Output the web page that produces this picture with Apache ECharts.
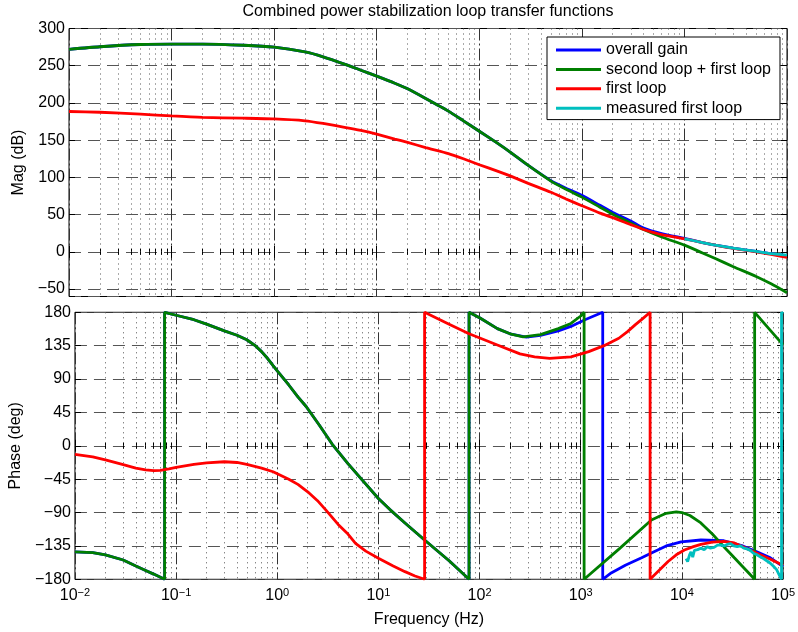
<!DOCTYPE html>
<html>
<head>
<meta charset="utf-8">
<script src="https://cdn.jsdelivr.net/npm/echarts@6/dist/echarts.min.js"></script>
<style>
  html, body { margin: 0; padding: 0; background: #fff; }
  #chart { width: 798px; height: 632px; }
</style>
</head>
<body>
<div id="chart"></div>
<script type="text/javascript">
  // Bode plot: magnitude (top) and phase (bottom)

  // Magnitude (Hz -> dB)
  var freqMag = [0.01, 0.02, 0.05, 0.1, 0.2, 0.5, 1, 2, 3, 5, 7, 10, 15, 20, 30, 50, 70, 100, 150, 200, 300, 500, 700, 1000, 1500, 2000, 3000, 4000, 6000, 10000, 15000, 20000, 30000, 50000, 70000, 100000];
  var magOverall = [272, 275.5, 278.5, 279, 279, 277.5, 275, 268.5, 262, 251.5, 244, 236, 226.5, 219, 206, 189, 176, 162, 146, 134, 116, 95.5, 85.5, 76, 62.5, 53, 41.5, 32, 24.5, 18, 12.5, 9, 5, 0.5, -2.5, -5];
  var magSecond = [272, 275.5, 278.5, 279, 279, 277.5, 275, 268.5, 262, 251.5, 244, 236, 226.5, 219, 206, 189, 176, 162, 146, 134, 116, 95, 84, 73.5, 60, 50.5, 38.5, 30, 20, 9, -1.5, -9, -20, -33, -43, -55];
  var magFirst = [188.5, 187.5, 185, 182.5, 180.5, 179.5, 178.5, 176, 172.5, 167, 163, 158, 151.5, 147, 140, 132, 125, 117, 108.5, 102, 92, 80, 71, 62, 52, 46, 36.5, 30, 23, 17.5, 12.5, 9, 4.5, 0, -3.5, -7.5];
  var freqMagMeas = [10000, 15000, 20000, 30000, 50000, 70000, 100000];
  var magMeasured = [17.5, 12.5, 9, 5, 0.5, -2.5, -4.5];

  // Phase (Hz -> deg), wrapped at +/-180 so some frequencies repeat
  var freqPhOverall = [0.01, 0.015, 0.02, 0.03, 0.04, 0.05, 0.06, 0.077, 0.077, 0.1, 0.15, 0.2, 0.3, 0.4, 0.5, 0.6, 0.7, 0.8, 0.91, 1, 1.3, 1.6, 1.93, 2.6, 3.5, 5, 6.9, 10, 13, 18.3, 28.6, 50, 78.7, 78.7, 102, 150, 200, 290, 400, 600, 800, 1100, 1650, 1650, 2000, 2760, 4000, 5000, 7000, 9840, 15400, 26000, 40000, 55000, 75000, 100000];
  var phOverall = [-143, -144, -147, -154, -162, -168, -173, -180, 180, 176, 170, 164, 155, 149, 143, 135.5, 127, 118, 108, 101, 82, 66, 53, 28, 2, -24, -46, -71, -86, -104, -127, -155, -180, 180, 172, 158, 151, 146.5, 149, 155, 161, 170, 180, -180, -171.5, -161, -151, -144.5, -135, -129.5, -127, -128, -135, -143, -151, -163];
  var freqPhSecond = [0.01, 0.015, 0.02, 0.03, 0.04, 0.05, 0.06, 0.077, 0.077, 0.1, 0.15, 0.2, 0.3, 0.4, 0.5, 0.6, 0.7, 0.8, 0.91, 1, 1.3, 1.6, 1.93, 2.6, 3.5, 5, 6.9, 10, 13, 18.3, 28.6, 50, 78.7, 78.7, 102, 150, 200, 270, 400, 600, 800, 1000, 1080, 1080, 2400, 5000, 6000, 7000, 8800, 10000, 12000, 15400, 20000, 26000, 33000, 40000, 52400, 52400, 100000];
  var phSecond = [-143, -144, -147, -154, -162, -168, -173, -180, 180, 176, 170, 164, 155, 149, 143, 135.5, 127, 118, 108, 101, 82, 66, 53, 28, 2, -24, -46, -71, -86, -104, -127, -155, -180, 180, 172, 158, 151, 147, 150, 158, 165, 175, 180, -180, -139, -100, -95, -91, -89, -90, -94, -104, -119, -136, -151, -163, -180, 180, 136];
  var freqPhFirst = [0.01, 0.015, 0.02, 0.03, 0.04, 0.05, 0.06, 0.07, 0.085, 0.1, 0.15, 0.2, 0.3, 0.4, 0.5, 0.7, 0.91, 1.3, 1.6, 2, 2.5, 3, 4, 5, 5.94, 7.5, 10, 14, 18.3, 23, 28.6, 28.6, 50, 78.7, 102, 150, 251, 350, 493, 800, 1200, 1700, 2380, 2900, 3450, 4100, 4850, 4850, 6000, 7300, 8800, 10600, 13000, 15400, 20000, 26000, 33000, 40000, 51200, 62000, 75000, 100000];
  var phFirst = [-11.5, -15, -19, -25.5, -30, -32.5, -33.5, -33, -31, -29, -25, -23, -21.5, -22.5, -25, -30, -35, -45, -52, -62, -74, -86, -106, -119, -131.5, -142, -151.7, -162, -169.7, -175.5, -180, 180, 164, 151, 145, 136, 124, 120, 118, 120, 127, 135, 145, 154, 163, 171.5, 180, -180, -167.5, -156, -147, -140.5, -136, -133, -130, -129, -131, -136, -143, -148, -153, -161];
  var freqPhMeas = [11000, 11400, 11900, 12300, 12800, 13300, 14300, 15400, 16600, 17900, 19000, 20800, 22500, 24200, 26000, 28000, 30300, 32500, 35200, 38000, 40900, 44000, 47500, 51000, 55100, 60000, 64000, 69000, 74300, 80000, 86400, 93100, 96600, 96600, 100000];
  var phMeasured = [-152, -156, -147, -143, -150, -141, -140, -138, -140, -136, -138, -137, -134, -134, -135, -133, -132, -135, -136, -135, -138, -139, -141, -145, -147, -150, -152, -155, -158, -162, -167, -176, -180, 180, 178];

  var names = ['overall gain', 'second loop + first loop', 'first loop', 'measured first loop'];
  var colors = ['#0000ff', '#007f00', '#ff0000', '#00bfbf'];

  var FONT = "'Liberation Sans', Arial, Helvetica, sans-serif";
  var MINUS = '\u2212';

  function pairs(fs, vs) {
    return fs.map(function (f, i) { return [f, vs[i]]; });
  }

  function yLabel(v) {
    if (v === -60) return '';
    return v < 0 ? MINUS + (-v) : String(v);
  }

  function xLabel(v) {
    var e = Math.round(Math.log10(v));
    return '{b|10}{s|' + (e < 0 ? MINUS + (-e) : e) + '}';
  }

  function logAxis(grid, pos, labels) {
    return {
      type: 'log',
      logBase: 10,
      gridIndex: grid,
      position: pos,
      min: 0.01,
      max: 100000,
      splitNumber: 7,
      axisLine: { show: false },
      axisTick: { show: true, inside: true, length: 6, lineStyle: { color: '#000' } },
      minorTick: { show: true, splitNumber: 9, length: 3, lineStyle: { color: '#000' } },
      axisLabel: labels ? {
        show: true,
        margin: 8,
        formatter: xLabel,
        color: '#000',
        fontFamily: FONT,
        rich: {
          b: { fontSize: 16, fontFamily: FONT, color: '#000', lineHeight: 16, verticalAlign: 'bottom' },
          s: { fontSize: 11, fontFamily: FONT, color: '#000', lineHeight: 11, verticalAlign: 'top', padding: [0, 0, 12, 0] }
        }
      } : { show: false },
      splitLine: {
        show: pos === 'bottom',
        lineStyle: { color: '#333', width: 1, type: [12, 3, 2, 3] }
      },
      minorSplitLine: {
        show: pos === 'bottom',
        lineStyle: { color: '#555', width: 1, type: [1, 4] }
      }
    };
  }

  function valueAxis(grid, pos, min, max, extra) {
    var ax = {
      type: 'value',
      gridIndex: grid,
      position: pos,
      min: min,
      max: max,
      axisLine: { show: false },
      axisTick: { show: true, inside: true, length: 6, lineStyle: { color: '#000' } },
      axisLabel: pos === 'left' ? {
        show: true, margin: 4, formatter: yLabel,
        color: '#000', fontSize: 16, fontFamily: FONT
      } : { show: false },
      splitLine: {
        show: pos === 'left',
        lineStyle: { color: '#555', width: 1, type: [12, 7] }
      }
    };
    for (var k in extra) ax[k] = extra[k];
    return ax;
  }

  var nameStyle = { color: '#000', fontSize: 16, fontFamily: FONT };

  var myChart = echarts.init(document.getElementById('chart'));

  function line(i, x, y, data, smooth) {
    return {
      name: names[i],
      type: 'line',
      xAxisIndex: x,
      yAxisIndex: y,
      data: data,
      symbol: 'none',
      showSymbol: false,
      smooth: smooth,
      color: colors[i],
      lineStyle: { color: colors[i], width: 2.8 },
      emphasis: { disabled: true },
      animation: false
    };
  }

  var option = {
    backgroundColor: '#fff',
    animation: false,
    title: {
      text: 'Combined power stabilization loop transfer functions',
      left: 428,
      top: 4,
      padding: 0,
      textAlign: 'center',
      textStyle: { fontSize: 16, fontWeight: 'normal', color: '#000', fontFamily: FONT }
    },
    legend: {
      data: names,
      orient: 'vertical',
      left: 547,
      top: 37,
      padding: [5, 9, 3.4, 9],
      itemGap: 3.4,
      itemWidth: 45,
      itemHeight: 3,
      icon: 'rect',
      backgroundColor: '#fff',
      borderColor: '#000',
      borderWidth: 1,
      borderRadius: 0,
      textStyle: { fontSize: 16, lineHeight: 16, color: '#000', fontFamily: FONT }
    },
    grid: [
      { left: 69, right: 11, top: 28.5, height: 268, show: true, borderColor: '#000', borderWidth: 1, backgroundColor: '#fff' },
      { left: 69, right: 11, top: 312.3, height: 267, show: true, borderColor: '#000', borderWidth: 1, backgroundColor: '#fff' }
    ],
    xAxis: [
      logAxis(0, 'bottom', false),
      logAxis(0, 'top', false),
      Object.assign(logAxis(1, 'bottom', true), {
        name: 'Frequency (Hz)', nameLocation: 'middle', nameGap: 32, nameTextStyle: nameStyle
      }),
      logAxis(1, 'top', false)
    ],
    yAxis: [
      valueAxis(0, 'left', -60, 300, {
        splitNumber: 7, name: 'Mag (dB)', nameLocation: 'middle', nameGap: 37, nameTextStyle: nameStyle
      }),
      valueAxis(0, 'right', -60, 300, { splitNumber: 7 }),
      valueAxis(1, 'left', -180, 180, {
        interval: 45, name: 'Phase (deg)', nameLocation: 'middle', nameGap: 46, nameTextStyle: nameStyle
      }),
      valueAxis(1, 'right', -180, 180, { interval: 45 })
    ],
    series: [
      line(0, 0, 0, pairs(freqMag, magOverall), 0.2),
      line(1, 0, 0, pairs(freqMag, magSecond), 0.2),
      line(2, 0, 0, pairs(freqMag, magFirst), 0.2),
      line(3, 0, 0, pairs(freqMagMeas, magMeasured), 0.2),
      line(0, 2, 2, pairs(freqPhOverall, phOverall), false),
      line(1, 2, 2, pairs(freqPhSecond, phSecond), false),
      line(2, 2, 2, pairs(freqPhFirst, phFirst), false),
      line(3, 2, 2, pairs(freqPhMeas, phMeasured), false)
    ]
  };

  myChart.setOption(option);

  window.onresize = function () {
    myChart.resize();
  };
</script>
</body>
</html>
